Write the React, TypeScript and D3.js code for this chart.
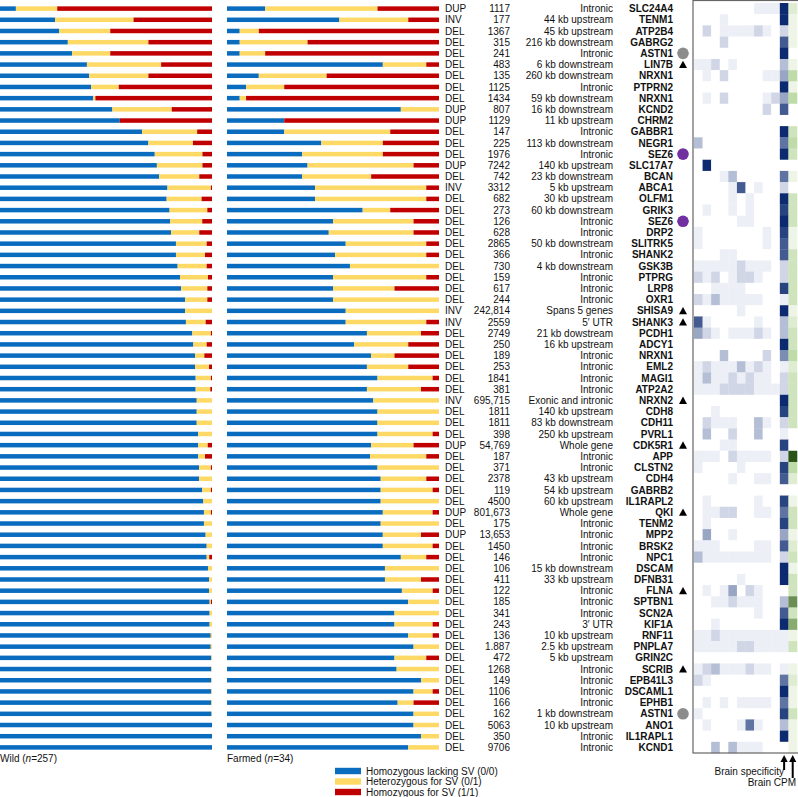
import React, { useEffect } from 'react';
import * as d3 from 'd3';

const genes = [
  'SLC24A4', 'TENM1', 'ATP2B4', 'GABRG2', 'ASTN1', 'LIN7B', 'NRXN1', 'PTPRN2', 'NRXN1', 'KCND2',
  'CHRM2', 'GABBR1', 'NEGR1', 'SEZ6', 'SLC17A7', 'BCAN', 'ABCA1', 'OLFM1', 'GRIK3', 'SEZ6',
  'DRP2', 'SLITRK5', 'SHANK2', 'GSK3B', 'PTPRG', 'LRP8', 'OXR1', 'SHISA9', 'SHANK3', 'PCDH1',
  'ADCY1', 'NRXN1', 'EML2', 'MAGI1', 'ATP2A2', 'NRXN2', 'CDH8', 'CDH11', 'PVRL1', 'CDK5R1',
  'APP', 'CLSTN2', 'CDH4', 'GABRB2', 'IL1RAPL2', 'QKI', 'TENM2', 'MPP2', 'BRSK2', 'NPC1',
  'DSCAM', 'DFNB31', 'FLNA', 'SPTBN1', 'SCN2A', 'KIF1A', 'RNF11', 'PNPLA7', 'GRIN2C', 'SCRIB',
  'EPB41L3', 'DSCAML1', 'EPHB1', 'ASTN1', 'ANO1', 'IL1RAPL1', 'KCND1',
];

const svTypes = [
  'DUP', 'INV', 'DEL', 'DEL', 'DEL', 'DEL', 'DEL', 'DEL', 'DEL', 'DUP',
  'DUP', 'DEL', 'DEL', 'DEL', 'DUP', 'DEL', 'INV', 'DEL', 'DEL', 'DEL',
  'DEL', 'DEL', 'DEL', 'DEL', 'DEL', 'DEL', 'DEL', 'INV', 'INV', 'DEL',
  'DEL', 'DEL', 'DEL', 'DEL', 'DEL', 'INV', 'DEL', 'DEL', 'DEL', 'DUP',
  'DEL', 'DEL', 'DEL', 'DEL', 'DEL', 'DUP', 'DEL', 'DUP', 'DEL', 'DEL',
  'DEL', 'DEL', 'DEL', 'DEL', 'DEL', 'DEL', 'DEL', 'DEL', 'DEL', 'DEL',
  'DEL', 'DEL', 'DEL', 'DEL', 'DEL', 'DEL', 'DEL',
];

const svSizes = [
  '1117', '177', '1367', '315', '241', '483', '135', '1125', '1434', '807',
  '1129', '147', '225', '1976', '7242', '742', '3312', '682', '273', '126',
  '628', '2865', '366', '730', '159', '617', '244', '242,814', '2559', '2749',
  '250', '189', '253', '1841', '381', '695,715', '1811', '1811', '398', '54,769',
  '187', '371', '2378', '119', '4500', '801,673', '175', '13,653', '1450', '146',
  '106', '411', '122', '185', '341', '243', '136', '1.887', '472', '1268',
  '149', '1106', '166', '162', '5063', '350', '9706',
];

const locations = [
  'Intronic', '44 kb upstream', '45 kb upstream', '216 kb downstream', 'Intronic',
  '6 kb downstream', '260 kb downstream', 'Intronic', '59 kb downstream', '16 kb downstream',
  '11 kb upstream', 'Intronic', '113 kb downstream', 'Intronic', '140 kb upstream',
  '23 kb downstream', '5 kb upstream', '30 kb upstream', '60 kb downstream', 'Intronic',
  'Intronic', '50 kb downstream', 'Intronic', '4 kb downstream', 'Intronic',
  'Intronic', 'Intronic', 'Spans 5 genes', '5\u2032 UTR', '21 kb dowstream',
  '16 kb upstream', 'Intronic', 'Intronic', 'Intronic', 'Intronic',
  'Exonic and intronic', '140 kb upstream', '83 kb downstream', '250 kb upstream', 'Whole gene',
  'Intronic', 'Intronic', '43 kb upstream', '54 kb upstream', '60 kb upstream',
  'Whole gene', 'Intronic', 'Intronic', 'Intronic', 'Intronic',
  '15 kb downstream', '33 kb upstream', 'Intronic', 'Intronic', 'Intronic',
  '3\u2032 UTR', '10 kb upstream', '2.5 kb upstream', '5 kb upstream', 'Intronic',
  'Intronic', 'Intronic', 'Intronic', '1 kb downstream', '10 kb upstream',
  'Intronic', 'Intronic',
];

// '' none, 't' triangle, 'g' grey circle, 'p' purple circle
const markers = [
  '', '', '', '', 'g', 't', '', '', '', '',
  '', '', '', 'p', '', '', '', '', '', 'p',
  '', '', '', '', '', '', '', 't', 't', '',
  '', '', '', '', '', 't', '', '', '', 't',
  '', '', '', '', '', 't', '', '', '', '',
  '', '', 't', '', '', '', '', '', '', 't',
  '', '', '', 'g', '', '', '',
];

// genotype frequencies: 0/0 and 0/1 (1/1 is the remainder)
const wildRef = [
  0.075, 0.26, 0.28, 0.32, 0.34, 0.41, 0.42, 0.43, 0.44, 0.53,
  0.565, 0.67, 0.70, 0.73, 0.74, 0.75, 0.79, 0.786, 0.80, 0.803,
  0.807, 0.83, 0.83, 0.838, 0.849, 0.854, 0.873, 0.873, 0.877, 0.907,
  0.912, 0.92, 0.92, 0.923, 0.923, 0.928, 0.928, 0.928, 0.935, 0.935,
  0.935, 0.939, 0.939, 0.954, 0.959, 0.962, 0.962, 0.97, 0.975, 0.975,
  0.981, 0.986, 0.986, 0.989, 0.989, 0.989, 0.994, 0.994, 0.997, 0.997,
  0.997, 0.997, 0.997, 0.998, 1, 1, 1,
];
const wildHet = [
  0.195, 0.37, 0.24, 0.38, 0.18, 0.35, 0.28, 0.13, 0.01, 0.28,
  0, 0.26, 0.21, 0.225, 0.215, 0.19, 0.205, 0.165, 0.178, 0.151,
  0.133, 0.145, 0.137, 0.137, 0.132, 0.124, 0.105, 0.127, 0.093, 0.088,
  0.063, 0.044, 0.066, 0.072, 0.069, 0.072, 0.072, 0.072, 0.065, 0.045,
  0.032, 0.056, 0.061, 0.041, 0.041, 0.033, 0.038, 0.03, 0.025, 0.012,
  0.019, 0.014, 0.014, 0.006, 0.011, 0.011, 0.006, 0.006, 0.003, 0.003,
  0.003, 0.003, 0.003, 0.002, 0, 0, 0,
];
const farmedRef = [
  0.18, 0.53, 0.06, 0.06, 0.06, 0.735, 0.15, 0.09, 0.06, 0.82,
  0.27, 0.27, 0.445, 0.355, 0.38, 0.355, 0.415, 0.415, 0.64, 0.5,
  0.48, 0.56, 0.51, 0.58, 0.5, 0.5, 0.5, 0.56, 0.56, 0.66,
  0.6, 0.68, 0.66, 0.71, 0.66, 0.69, 0.71, 0.71, 0.71, 0.68,
  0.675, 0.71, 0.725, 0.725, 0.725, 0.735, 0.725, 0.735, 0.735, 0.82,
  0.745, 0.745, 0.825, 0.855, 0.79, 0.79, 0.855, 0.88, 0.79, 0.8,
  0.915, 0.88, 0.805, 0.88, 0.88, 0.915, 0.855,
];
const farmedHet = [
  0.53, 0.325, 0.09, 0.32, 0.12, 0.205, 0.32, 0.18, 0.03, 0.18,
  0, 0.5, 0.29, 0.38, 0.5, 0.325, 0.525, 0.525, 0.13, 0.38,
  0.4, 0.38, 0.43, 0.42, 0.44, 0.29, 0.5, 0.44, 0.38, 0.255,
  0.255, 0.11, 0.195, 0.26, 0.255, 0.31, 0.29, 0.29, 0.26, 0.2,
  0.265, 0.29, 0.215, 0.245, 0.275, 0.235, 0.275, 0.18, 0.235, 0.12,
  0.255, 0.17, 0.145, 0.145, 0.21, 0.18, 0.115, 0.12, 0.15, 0.2,
  0.085, 0.09, 0.075, 0.12, 0.12, 0.085, 0.145,
];

// expression in 10 tissues, 0-9 intensity per column
const tissueExpr = [
  '0000000111', '0001000000', '0201111210', '0002000000', '0000000000',
  '1120100000', '0102000011', '0000000000', '0102000012', '0000000020',
  '0000000000', '0000000000', '3000000000', '0000000000', '0900000000',
  '0001300000', '0000170100', '0000101000', '0100101000', '0000011000',
  '1000000010', '1000000010', '0001100000', '1111121110', '2120122100',
  '0011110000', '2131111100', '0000010000', '7100000100', '4210111210',
  '0000000000', '0003000020', '1211131210', '1311212110', '1112222111',
  '0000000000', '0010000000', '0211100310', '0300200300', '0001100000',
  '1110211110', '1000010000', '0000100110', '0000000000', '0100000100',
  '0112200110', '0100000000', '0400100000', '1110000110', '3111111110',
  '0000000000', '0000010000', '0101402100', '0011211100', '0000000100',
  '0010000000', '1121111111', '1111122111', '0000000000', '1231112110',
  '2100000000', '0000000000', '0101011110', '1000000000', '0100016100',
  '0000000000', '0030311100',
];
const brainSpec = [
  9, 9, 2, 7, 9, 3, 4, 9, 4, 7,
  0, 9, 6, 9, 0, 6, 2, 9, 8, 9,
  8, 7, 7, 2, 2, 8, 1, 9, 3, 3,
  9, 5, 1, 2, 2, 9, 8, 2, 1, 8,
  2, 8, 7, 0, 8, 6, 8, 4, 7, 2,
  9, 9, 0, 3, 7, 9, 1, 1, 0, 1,
  6, 9, 6, 8, 3, 9, 0,
];
const brainCpm = [
  2, 1, 1, 1, 0, 1, 4, 1, 4, 0,
  0, 3, 4, 3, 0, 1, 0, 3, 3, 3,
  1, 1, 3, 3, 3, 3, 3, 1, 2, 3,
  3, 4, 2, 3, 3, 3, 3, 3, 0, 0,
  9, 4, 2, 0, 1, 3, 3, 1, 2, 3,
  1, 3, 3, 7, 3, 6, 1, 3, 0, 1,
  2, 1, 1, 3, 1, 1, 1,
];

const legendItems = [
  { label: 'Homozygous lacking SV (0/0)', color: '#0a6cbf' },
  { label: 'Heterozygous for SV (0/1)', color: '#ffd966' },
  { label: 'Homozygous for SV (1/1)', color: '#c00000' },
];

const FONT = '"Liberation Sans", Arial, Helvetica, sans-serif';
const GENO = legendItems.map((d) => d.color);

const App: React.FC = () => {
  useEffect(() => {
    document.body.style.margin = '0';
  }, []);

  const n = genes.length;
  const y = d3.scaleBand<number>().domain(d3.range(n)).range([3, 753]);
  const xWild = d3.scaleLinear().domain([0, 1]).range([0, 212]);
  const xFarm = d3.scaleLinear().domain([0, 1]).range([227, 439]);
  const xCol = d3.scaleBand<number>().domain(d3.range(12)).range([694, 797]);
  const blue = d3.scaleLinear<string>().domain([0, 1, 9]).range(['#ffffff', '#eceff6', '#0b2a6f']);
  const green = d3.scaleLinear<string>().domain([0, 1, 4.5, 9]).range(['#ffffff', '#eef5e6', '#b7d79c', '#2c5418']);
  const barH = 4.5;

  const bars = (ref: number[], het: number[], xs: d3.ScaleLinear<number, number>, key: string) =>
    genes.map((_, i) => {
      const stops = [0, ref[i], ref[i] + het[i], 1];
      const cy = (y(i) ?? 0) + y.bandwidth() / 2;
      return (
        <g key={`${key}${i}`}>
          {[0, 1, 2].map((k) =>
            stops[k + 1] > stops[k] ? (
              <rect
                key={k}
                x={xs(stops[k])}
                y={cy - barH / 2}
                width={xs(stops[k + 1]) - xs(stops[k])}
                height={barH}
                fill={GENO[k]}
              />
            ) : null
          )}
        </g>
      );
    });

  return (
    <svg width={798} height={797} style={{ display: 'block' }} fontFamily={FONT}>
      {bars(wildRef, wildHet, xWild, 'w')}
      {bars(farmedRef, farmedHet, xFarm, 'f')}

      {genes.map((g, i) => {
        const cy = (y(i) ?? 0) + y.bandwidth() / 2;
        const by = cy + 3.6;
        const m = markers[i];
        return (
          <g key={`t${i}`} fontSize={10} fill="#111">
            <text x={445} y={by}>{svTypes[i]}</text>
            <text x={510} y={by} textAnchor="end">{svSizes[i]}</text>
            <text x={613} y={by} textAnchor="end">{locations[i]}</text>
            <text x={673} y={by} textAnchor="end" fontWeight="bold">{g}</text>
            {m === 't' && (
              <path d={`M${683 - 4},${cy + 3.5}L${683 + 4},${cy + 3.5}L683,${cy - 3.8}Z`} fill="#000" />
            )}
            {m === 'g' && <circle cx={683} cy={cy} r={5.8} fill="#8c8c8c" />}
            {m === 'p' && <circle cx={683} cy={cy} r={5.8} fill="#7030a0" />}
          </g>
        );
      })}

      {/* heatmap */}
      {genes.map((_, i) => (
        <g key={`h${i}`}>
          {tissueExpr[i].split('').map((c, j) => (
            <rect
              key={j}
              x={xCol(j)}
              y={y(i)}
              width={xCol.bandwidth() + 0.3}
              height={y.bandwidth() + 0.3}
              fill={blue(+c)}
            />
          ))}
          <rect x={xCol(10)} y={y(i)} width={xCol.bandwidth() + 0.3} height={y.bandwidth() + 0.3} fill={blue(brainSpec[i])} />
          <rect x={xCol(11)} y={y(i)} width={xCol.bandwidth() + 0.3} height={y.bandwidth() + 0.3} fill={green(brainCpm[i])} />
        </g>
      ))}
      <rect x={693} y={0.5} width={110} height={752.5} fill="none" stroke="#666" strokeWidth={1.2} />

      {/* arrows */}
      {[
        { x: (xCol(10) ?? 0) + xCol.bandwidth() / 2, y2: 770 },
        { x: (xCol(11) ?? 0) + xCol.bandwidth() / 2, y2: 778 },
      ].map((a, i) => (
        <g key={`a${i}`}>
          <line x1={a.x} x2={a.x} y1={760} y2={a.y2} stroke="#000" strokeWidth={2} />
          <path d={`M${a.x - 3.6},${762}L${a.x + 3.6},${762}L${a.x},${755}Z`} fill="#000" />
        </g>
      ))}
      <text x={784} y={775} fontSize={10} textAnchor="end" fill="#111">Brain specificity</text>
      <text x={796} y={786} fontSize={10} textAnchor="end" fill="#111">Brain CPM</text>

      <text x={0} y={762} fontSize={10} fill="#111">
        Wild (<tspan fontStyle="italic">n</tspan>=257)
      </text>
      <text x={227} y={762} fontSize={10} fill="#111">
        Farmed (<tspan fontStyle="italic">n</tspan>=34)
      </text>

      {legendItems.map((d, i) => (
        <g key={d.label} transform={`translate(335, ${771 + i * 10.5})`}>
          <rect x={0} y={-3.2} width={26} height={6.4} fill={d.color} />
          <text x={31} y={3.6} fontSize={10} fill="#111">{d.label}</text>
        </g>
      ))}
    </svg>
  );
};

export default App;
